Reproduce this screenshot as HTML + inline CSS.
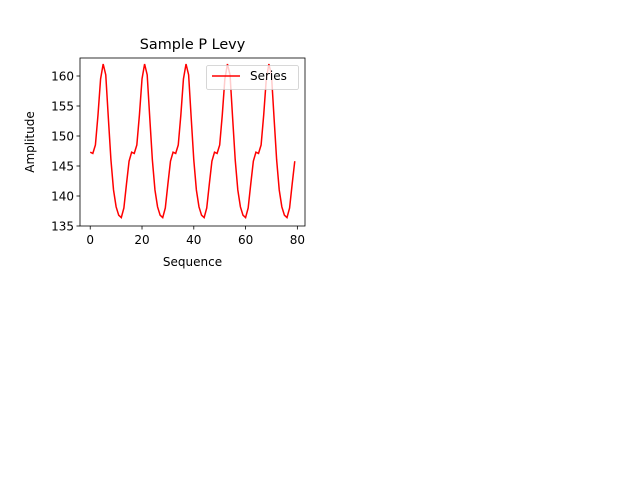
<!DOCTYPE html>
<html><head><meta charset="utf-8"><style>
body{margin:0;background:#fff}
svg text{font-family:"DejaVu Sans","Liberation Sans",sans-serif;fill:#000}
</style></head><body>
<svg id="chart" width="640" height="480" xmlns="http://www.w3.org/2000/svg">
<rect width="640" height="480" fill="#fff"/>
<text x="192.5" y="49" font-size="14.4" text-anchor="middle">Sample P Levy</text>
<g id="plot"></g>
<text x="192.5" y="266" font-size="12" text-anchor="middle">Sequence</text>
<text transform="translate(34,142) rotate(-90)" font-size="12" text-anchor="middle">Amplitude</text>
</svg>
<script>
const values = [147.3,147.1,148.5,153.5,159.5,162,160.2,153,146,141,138.2,136.8,136.4,138,142,145.8,
147.3,147.1,148.5,153.5,159.5,162,160.2,153,146,141,138.2,136.8,136.4,138,142,145.8,
147.3,147.1,148.5,153.5,159.5,162,160.2,153,146,141,138.2,136.8,136.4,138,142,145.8,
147.3,147.1,148.5,153.5,159.5,162,160.2,153,146,141,138.2,136.8,136.4,138,142,145.8,
147.3,147.1,148.5,153.5,159.5,162,160.2,153,146,141,138.2,136.8,136.4,138,142,145.8];
const xTicks = [0,20,40,60,80];
const yTicks = [135,140,145,150,155,160];
const seriesName = "Series";

const L=80,R=305,T=58,B=226;
const n=values.length;
const xmin=-(n-1)*0.05, xmax=(n-1)*1.05;
const ymin=135, ymax=163;
const sx=v=>L+(v-xmin)/(xmax-xmin)*(R-L);
const sy=v=>B-(v-ymin)/(ymax-ymin)*(B-T);
const NS="http://www.w3.org/2000/svg";
const g=document.getElementById('plot');
function mk(tag,attrs){const e=document.createElementNS(NS,tag);for(const k in attrs)e.setAttribute(k,attrs[k]);g.appendChild(e);return e;}
xTicks.forEach(t=>{const x=sx(t);
const l=mk('line',{x1:x,x2:x,y1:B,y2:B+3.5,stroke:'#000','stroke-width':0.8});


const tx=mk('text',{x:x,y:B+18,'font-size':12,'text-anchor':'middle'});tx.textContent=t;

});
yTicks.forEach(t=>{const y=sy(t);
const l=mk('line',{x1:L-3.5,x2:L,y1:y,y2:y,stroke:'#000','stroke-width':0.8});


const tx=mk('text',{x:L-6,y:y+4.3,'font-size':12,'text-anchor':'end'});tx.textContent=t;

});
const d=values.map((v,i)=>(i?'L':'M')+sx(i).toFixed(2)+','+sy(v).toFixed(2)).join('');
const p=mk('path',{d:d,fill:'none',stroke:'#ff0000','stroke-width':1.5});


const fr=mk('rect',{x:L,y:T,width:R-L,height:B-T,fill:'none',stroke:'#000','stroke-width':0.8});


const lg=mk('rect',{x:206.5,y:65.5,width:92,height:24,rx:2,fill:'#fff','fill-opacity':0.8,stroke:'#ccc','stroke-width':0.8});


const ll=mk('line',{x1:212,x2:240,y1:76,y2:76,stroke:'#ff0000','stroke-width':1.5});


const lt=mk('text',{x:250,y:80,'font-size':12});lt.textContent=seriesName;


</script>
</body></html>
